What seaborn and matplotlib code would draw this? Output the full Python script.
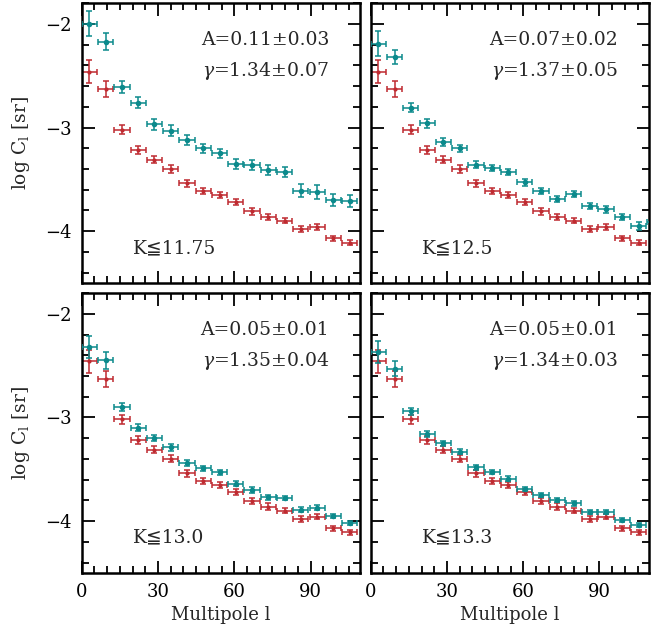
import numpy as np
import pandas as pd
import seaborn as sns
import matplotlib.pyplot as plt
from matplotlib.ticker import MultipleLocator

# multipole bin centres (shared by every panel)
ell = [3.0, 9.4, 15.8, 22.2, 28.6, 35.0, 41.4, 47.8, 54.2,
       60.6, 67.0, 73.4, 79.8, 86.2, 92.6, 99.0, 105.4]
ell_err = 3.0

# reference sample (red), same in all panels
ref_logc = [-2.46, -2.63, -3.02, -3.22, -3.31, -3.40, -3.54, -3.61, -3.65,
            -3.72, -3.81, -3.86, -3.90, -3.98, -3.96, -4.07, -4.11]
ref_err = [0.11, 0.075, 0.04, 0.04, 0.035, 0.035, 0.035, 0.03, 0.03,
           0.03, 0.03, 0.03, 0.025, 0.025, 0.025, 0.025, 0.025]

# magnitude-limited samples (teal)
k_labels = ["K\u226611.75", "K\u226612.5", "K\u226613.0", "K\u226613.3"]
amp_text = ["A=0.11\u00b10.03", "A=0.07\u00b10.02", "A=0.05\u00b10.01", "A=0.05\u00b10.01"]
gam_text = ["$\\gamma$=1.34\u00b10.07", "$\\gamma$=1.37\u00b10.05",
            "$\\gamma$=1.35\u00b10.04", "$\\gamma$=1.34\u00b10.03"]

logc_k1175 = [-2.00, -2.17, -2.61, -2.76, -2.97, -3.03, -3.12, -3.20, -3.25,
              -3.35, -3.36, -3.41, -3.43, -3.61, -3.62, -3.70, -3.71]
err_k1175 = [0.12, 0.08, 0.055, 0.05, 0.05, 0.05, 0.05, 0.045, 0.045,
             0.05, 0.05, 0.05, 0.045, 0.065, 0.065, 0.06, 0.06]
logc_k125 = [-2.19, -2.32, -2.81, -2.96, -3.14, -3.20, -3.36, -3.39, -3.43,
             -3.53, -3.61, -3.69, -3.64, -3.76, -3.79, -3.86, -3.95, -3.91]
err_k125 = [0.12, 0.07, 0.045, 0.04, 0.04, 0.035, 0.035, 0.03, 0.03,
            0.03, 0.03, 0.03, 0.03, 0.03, 0.03, 0.03, 0.035, 0.035]
ell_k125 = ell + [111.8]
logc_k130 = [-2.32, -2.45, -2.90, -3.10, -3.20, -3.29, -3.44, -3.49, -3.53,
             -3.64, -3.70, -3.77, -3.78, -3.89, -3.87, -3.95, -4.02]
err_k130 = [0.105, 0.08, 0.04, 0.035, 0.03, 0.03, 0.03, 0.025, 0.025,
            0.025, 0.025, 0.025, 0.02, 0.025, 0.025, 0.02, 0.02]
logc_k133 = [-2.37, -2.53, -2.94, -3.16, -3.25, -3.33, -3.48, -3.53, -3.59,
             -3.69, -3.75, -3.80, -3.83, -3.91, -3.91, -3.99, -4.04]
err_k133 = [0.105, 0.07, 0.035, 0.03, 0.025, 0.025, 0.025, 0.02, 0.02,
            0.02, 0.02, 0.02, 0.02, 0.02, 0.02, 0.02, 0.02]

samples = [(ell, logc_k1175, err_k1175), (ell_k125, logc_k125, err_k125),
           (ell, logc_k130, err_k130), (ell, logc_k133, err_k133)]

teal = "#0b8a8c"
red = "#bf2a30"

sns.set_theme(style="ticks")
plt.rcParams['font.family'] = ['DejaVu Serif', 'DejaVu Sans']
plt.rcParams['mathtext.fontset'] = 'dejavuserif'

fig, axes = plt.subplots(2, 2, figsize=(6.7, 6.33), dpi=100, sharex=True, sharey=True)
fig.subplots_adjust(left=0.122, right=0.968, top=0.995, bottom=0.095, wspace=0.04, hspace=0.036)

ref_df = pd.DataFrame({"ell": ell, "logc": ref_logc})

for i, ax in enumerate(axes.flat):
    x, y, e = samples[i]
    df = pd.DataFrame({"ell": x, "logc": y})

    ax.errorbar(ell, ref_logc, xerr=ell_err, yerr=ref_err, fmt="none",
                ecolor=red, elinewidth=1.1, capsize=2.5, capthick=1.1, zorder=2)
    sns.scatterplot(data=ref_df, x="ell", y="logc", ax=ax, color=red, s=9,
                    marker="o", edgecolor=red, linewidth=0, zorder=3)

    ax.errorbar(x, y, xerr=ell_err, yerr=e, fmt="none",
                ecolor=teal, elinewidth=1.1, capsize=2.5, capthick=1.1, zorder=4)
    sns.scatterplot(data=df, x="ell", y="logc", ax=ax, color=teal, s=16,
                    marker="o", edgecolor=teal, linewidth=0, zorder=5)

    ax.set_xlim(0, 109.3)
    ax.set_ylim(-4.5, -1.8)
    ax.xaxis.set_major_locator(MultipleLocator(30))
    ax.xaxis.set_minor_locator(MultipleLocator(5))
    ax.yaxis.set_major_locator(MultipleLocator(1))
    ax.yaxis.set_minor_locator(MultipleLocator(0.2))
    ax.tick_params(which="both", direction="in", top=True, right=True,
                   width=1.3, labelsize=13, pad=7, colors="black")
    ax.tick_params(which="major", length=9)
    ax.tick_params(which="minor", length=5)
    for s in ax.spines.values():
        s.set_linewidth(1.8)
        s.set_color("black")

    ax.text(0.89, 0.868, amp_text[i], transform=ax.transAxes, ha="right",
            va="center", fontsize=13.5)
    ax.text(0.89, 0.757, gam_text[i], transform=ax.transAxes, ha="right",
            va="center", fontsize=13.5)
    ax.text(0.185, 0.125, k_labels[i], transform=ax.transAxes, ha="left",
            va="center", fontsize=13.5)

    ax.set_xlabel("")
    ax.set_ylabel("")

for ax in axes[1]:
    ax.set_xlabel("Multipole l", fontsize=13, labelpad=4)
for ax in axes[:, 0]:
    ax.set_ylabel("log C$_{\\mathrm{l}}$ [sr]", fontsize=13.5, labelpad=10)

plt.savefig("out.png", dpi=100)
